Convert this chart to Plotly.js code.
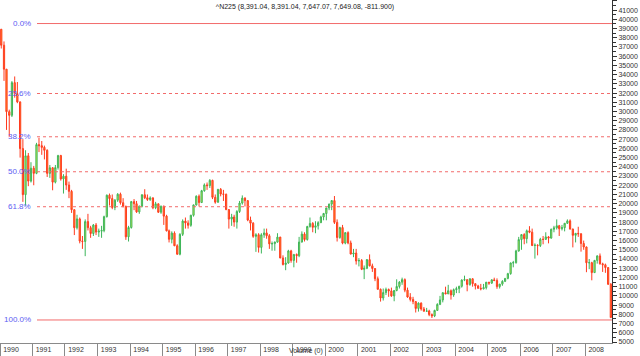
<!DOCTYPE html>
<html>
<head>
<meta charset="utf-8">
<script src="https://cdn.plot.ly/plotly-3.0.1.min.js"></script>
<style>html,body{margin:0;padding:0;background:#fff}#chart{width:640px;height:356px}</style>
</head>
<body>
<div id="chart"></div>
<script>
// Monthly Nikkei 225 bars, Jan 1990 .. Oct 2008 (values read/estimated from the chart)
const startYear = 1990;
const open = [
38922,37189,34592,29980,29585,33131,31940,31036,25978,20984,25194,22454,
23849,23293,26409,26292,26111,25790,23291,23900,22335,23916,25222,22687,
22984,22023,21339,19346,17391,18348,15952,15910,18061,17399,16767,17684,
16925,17024,17098,18591,20919,20552,19590,20380,21027,20106,19703,16408,
17417,20229,19997,19112,19725,20974,20644,20449,20629,19564,19990,19076,
19723,18650,17053,16140,16807,15437,14517,16678,18117,17913,17655,18744,
19868,20813,20125,21407,22041,21956,22531,20693,20167,21556,21057,21020,
19361,18330,18557,18003,19151,20069,20605,20331,18229,17888,16459,16636,
15259,16628,16832,16527,15641,15671,15830,16379,14108,13406,13564,14883,
13842,14499,14368,15837,16701,16112,17530,17862,17437,17605,17943,18558,
18934,19540,19960,20337,17974,16332,17411,15727,16861,15747,14540,14649,
13786,13844,12884,12999,13934,13262,12969,11861,10714,9775,10367,10697,
10543,9998,10588,11025,11493,11764,10622,9878,9619,9383,8640,9216,
8579,8340,8363,7973,7831,8425,9083,9563,10344,10219,10560,10101,
10677,10784,11042,11715,11762,11236,11858,11326,11082,10824,10771,10899,
11489,11388,11741,11668,11009,11277,11584,11900,12413,13574,13607,14872,
16111,16650,16205,17060,16906,15467,15505,15457,16141,16128,16399,16274,
17226,17383,17604,17288,17400,17876,18138,17249,16569,16786,16737,15681,
15308,13592,13603,12526,13850,14339,13481,13377,13073,11260];
const high = [
38951,37600,34600,30200,33300,33800,33200,31100,27000,25800,25500,24500,
24100,26600,27146,26800,26300,25900,24200,23950,24200,25300,25300,23200,
23800,22400,21500,19400,18800,18500,16500,18300,18900,17600,17800,17900,
17300,17600,18700,21000,21100,21000,20500,21148,21200,20600,19800,17600,
20300,20500,20300,19800,21000,21573,21000,20800,20700,20200,20000,19800,
19800,18800,17200,17000,17000,15600,16800,18300,18500,18200,18800,19900,
20900,21000,21500,22200,22300,22666,22600,21000,21600,21700,21500,21100,
19400,18900,18800,19300,20300,20900,20700,20400,18600,18000,16800,16800,
16800,17300,17300,16700,15900,15900,16800,16400,14400,14200,15000,15000,
14500,14600,16400,17000,16900,17600,18500,18000,18100,18100,18700,19000,
19500,20000,20400,20833,18300,17500,17700,16900,17000,16000,15100,15100,
14100,14000,13300,14000,14500,13500,13000,12100,10800,10800,10900,10800,
10900,10600,11800,11600,11980,11900,10900,10300,9900,9400,9300,9300,
8800,8700,8500,8100,8500,9200,10000,10400,11000,11200,10700,10800,
11000,11100,11800,12195,11800,11900,11900,11300,11200,11300,11300,11500,
11500,11800,11975,11900,11300,11700,11900,12500,13600,13800,15000,16400,
16500,16800,17200,17563,17300,15700,15600,16300,16500,16900,16500,17300,
17600,18300,17700,17700,17900,18297,18300,17300,16800,17500,16800,16000,
15350,14000,13700,13900,14400,14601,13600,13500,13100,11400];
const low = [
36832,33321,28002,27251,29400,31500,30900,25000,20200,19781,21900,22300,
22000,23200,25600,25300,24800,22900,22800,21456,22200,23700,22500,21100,
21500,20600,19000,16598,17200,15700,15100,14309,17100,16300,16500,16600,
16400,16300,16900,18500,19800,19400,19300,20200,19900,19600,16078,15900,
17300,19300,19000,18900,19600,20500,20300,20300,19400,19400,19000,18900,
17700,17000,15800,15700,15400,14485,14400,16500,17300,17300,17500,18600,
19800,19700,20100,21300,21500,21700,20500,20000,20100,20800,20300,19300,
17300,17600,17500,17303,19000,19900,19700,18100,17100,16300,14775,14700,
14600,16300,16200,15100,14900,14900,15800,14100,13300,12787,13500,13600,
13100,13600,14200,15800,15900,16000,17400,16900,16800,17200,17900,18200,
18200,19300,19300,17800,15900,16200,15600,15600,15600,14500,14200,13400,
13200,12800,11819,12900,13200,12600,11600,10700,9382,9500,10100,9900,
9900,9420,10500,10800,11200,10400,9800,9400,9100,8200,8300,8400,
8300,8300,7800,7604,7700,8400,9000,9300,10200,10200,9600,9900,
10300,10300,10900,11600,10500,11100,11000,10700,10800,10600,10700,10700,
11200,11300,11600,10770,10800,11100,11500,11800,12300,13100,13500,14800,
15000,15600,15700,16800,15400,14045,14400,15300,15600,16100,15700,16200,
16900,17200,16500,17100,17000,17800,17200,15262,15800,16400,14800,15000,
12572,12900,11691,12500,13500,13400,12600,12500,11200,7647];
const close = [
37189,34592,29980,29585,33131,31940,31036,25978,20984,25194,22454,23849,
23293,26409,26292,26111,25790,23291,23900,22335,23916,25222,22687,22984,
22023,21339,19346,17391,18348,15952,15910,18061,17399,16767,17684,16925,
17024,17098,18591,20919,20552,19590,20380,21027,20106,19703,16408,17417,
20229,19997,19112,19725,20974,20644,20449,20629,19564,19990,19076,19723,
18650,17053,16140,16807,15437,14517,16678,18117,17913,17655,18744,19868,
20813,20125,21407,22041,21956,22531,20693,20167,21556,21057,21020,19361,
18330,18557,18003,19151,20069,20605,20331,18229,17888,16459,16636,15259,
16628,16832,16527,15641,15671,15830,16379,14108,13406,13564,14883,13842,
14499,14368,15837,16701,16112,17530,17862,17437,17605,17943,18558,18934,
19540,19960,20337,17974,16332,17411,15727,16861,15747,14540,14649,13786,
13844,12884,12999,13934,13262,12969,11861,10714,9775,10367,10697,10543,
9998,10588,11025,11493,11764,10622,9878,9619,9383,8640,9216,8579,
8340,8363,7973,7831,8425,9083,9563,10344,10219,10560,10101,10677,
10784,11042,11715,11762,11236,11858,11326,11082,10824,10771,10899,11489,
11388,11741,11668,11009,11277,11584,11900,12413,13574,13607,14872,16111,
16650,16205,17060,16906,15467,15505,15457,16141,16128,16399,16274,17226,
17383,17604,17288,17400,17876,18138,17249,16569,16786,16737,15681,15308,
13592,13603,12526,13850,14339,13481,13377,13073,11260,7649];

const years = ['1990','1991','1992','1993','1994','1995','1996','1997','1998','1999',
               '2000','2001','2002','2003','2004','2005','2006','2007','2008'];

const fibHigh = 39540;
const fibLow = 7390;
const fibLevels = [0, 0.236, 0.382, 0.5, 0.618, 1.0];
const fibLabels = ['0.0%', '23.6%', '38.2%', '50.0%', '61.8%', '100.0%'];

const titleText = '^N225 (8,391.04, 8,391.04, 7,647.07, 7,649.08, -811.900)';

// month dates
const dates = open.map((_, i) => {
  const y = startYear + Math.floor(i / 12);
  const m = (i % 12) + 1;
  return y + '-' + String(m).padStart(2, '0') + '-15';
});

const trace = {
  type: 'candlestick',
  x: dates, open: open, high: high, low: low, close: close,
  increasing: {line: {color: '#3cb55a', width: 1}, fillcolor: '#eef23c'},
  decreasing: {line: {color: '#ff3a1f', width: 1}, fillcolor: '#ffa01a'},
  whiskerwidth: 0,
  hoverinfo: 'skip',
  showlegend: false
};

const shapes = [];
const annotations = [];
fibLevels.forEach((lv, i) => {
  const v = fibHigh - lv * (fibHigh - fibLow);
  const solid = (lv === 0 || lv === 1);
  shapes.push({
    type: 'line', xref: 'paper', yref: 'y',
    x0: 37 / 612, x1: 1, y0: v, y1: v,
    line: {color: '#f26b6b', width: 1, dash: solid ? 'solid' : 'dot'}
  });
  annotations.push({
    xref: 'paper', yref: 'y', x: 33 / 612, y: v,
    xanchor: 'right', yanchor: 'middle', showarrow: false,
    text: fibLabels[i],
    font: {family: 'Liberation Sans, Arial, sans-serif', size: 8, color: '#5c5cf2'}
  });
});
annotations.push({
  xref: 'paper', yref: 'paper', x: 306 / 612, y: -8 / 343,
  xanchor: 'center', yanchor: 'middle', showarrow: false,
  text: 'Volume (0)',
  font: {family: 'Liberation Sans, Arial, sans-serif', size: 7, color: '#333'}
});

const layout = {
  width: 640, height: 356,
  margin: {l: 0, r: 28, t: 0, b: 13, pad: 0},
  paper_bgcolor: '#ffffff', plot_bgcolor: '#ffffff',
  font: {family: 'Liberation Sans, Arial, sans-serif', size: 7, color: '#333'},
  title: {
    text: titleText,
    font: {family: 'Liberation Sans, Arial, sans-serif', size: 7, color: '#222'},
    xref: 'container', yref: 'container', x: 305 / 640, y: 1 - 7 / 356,
    xanchor: 'center', yanchor: 'middle'
  },
  xaxis: {
    type: 'date',
    range: ['1990-01-01', '2008-10-28'],
    rangeslider: {visible: false},
    tickmode: 'array',
    tickvals: years.map(y => y + '-01-01'),
    ticktext: years,
    ticks: 'outside', ticklen: 13, tickcolor: '#8a8a8a', tickwidth: 1,
    ticklabelshift: 11,
    ticklabelstandoff: -13,
    tickfont: {size: 7, color: '#333'},
    showline: true, linecolor: '#8a8a8a', linewidth: 1,
    showgrid: false, zeroline: false, fixedrange: true
  },
  yaxis: {
    side: 'right',
    range: [4892, 42093],
    tickmode: 'linear', tick0: 5000, dtick: 1000,
    tickformat: 'd',
    ticks: 'outside', ticklen: 4, tickcolor: '#333', tickwidth: 1,
    minor: {dtick: 500, tick0: 5000, ticks: 'outside', ticklen: 3, tickcolor: '#333', showgrid: false},
    tickfont: {size: 7, color: '#333'},
    showline: true, linecolor: '#333', linewidth: 1,
    showgrid: false, zeroline: false, fixedrange: true
  },
  shapes: shapes,
  annotations: annotations
};

Plotly.newPlot('chart', [trace], layout, {displayModeBar: false, staticPlot: true});
</script>
</body>
</html>
